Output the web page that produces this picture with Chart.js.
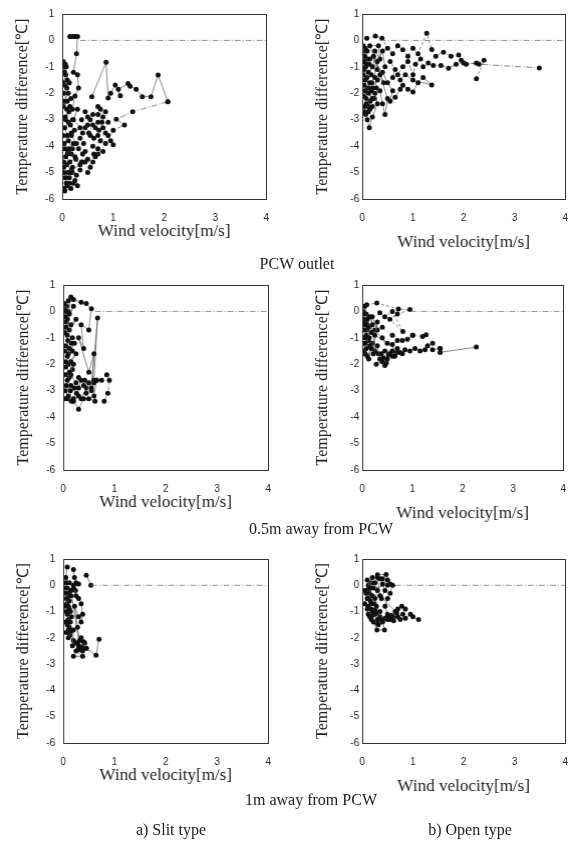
<!DOCTYPE html>
<html>
<head>
<meta charset="utf-8">
<script src="https://cdn.jsdelivr.net/npm/chart.js@4.4.1/dist/chart.umd.min.js"></script>
<style>
  html, body { margin: 0; padding: 0; background: #fff; overflow: hidden; }
  body { width: 569px; height: 846px; position: relative; }
  canvas { position: absolute; }
  .cap { position: absolute; transform: translate(-50%, -50%); font: 16px "Liberation Serif", serif; color: #222; white-space: nowrap; }
</style>
</head>
<body>
<canvas id="p1"></canvas>
<canvas id="p2"></canvas>
<canvas id="p3"></canvas>
<canvas id="p4"></canvas>
<canvas id="p5"></canvas>
<canvas id="p6"></canvas>
<div class="cap" style="left:297px;top:264px">PCW outlet</div>
<div class="cap" style="left:321px;top:529px">0.5m away from PCW</div>
<div class="cap" style="left:311px;top:800px">1m away from PCW</div>
<div class="cap" style="left:171px;top:830px">a) Slit type</div>
<div class="cap" style="left:470px;top:830px">b) Open type</div>
<script>
// axis ticks
const xTicks = [0, 1, 2, 3, 4];
const yTicks = [1, 0, -1, -2, -3, -4, -5, -6];

// zero reference line
const zeroLine1 = [[0.35, 0], [4, 0]];
const zeroLine2 = [[0.35, 0], [4, 0]];
const zeroLine3 = [[0.62, 0], [4, 0]];
const zeroLine4 = [[0.95, 0], [4, 0]];
const zeroLine5 = [[0.54, 0], [4, 0]];
const zeroLine6 = [[0.65, 0], [4, 0]];

// Slit type, PCW outlet
const p1s1 = [[0.02,-0.8],[0.06,-0.9],[0.04,-1.2],[0.08,-1.0],[0.1,-1.5],[0.05,-1.7],[0.12,-2.0],[0.04,-2.3],[0.09,-2.6],[0.15,-2.5],[0.06,-2.9],[0.12,-3.1],[0.2,-3.0],[0.05,-3.3],[0.1,-3.6],[0.18,-3.5],[0.04,-3.9],[0.13,-4.1],[0.22,-3.9],[0.07,-4.4],[0.15,-4.6],[0.03,-4.8],[0.11,-5.0],[0.2,-4.8],[0.06,-5.2],[0.14,-5.4],[0.04,-5.6],[0.1,-5.5],[0.25,-5.3],[0.3,-5.5]];
const p1s2 = [[0.15,0.15],[0.2,0.15],[0.25,0.15],[0.3,0.15],[0.28,-0.5],[0.22,-1.2],[0.3,-1.3],[0.32,-1.8],[0.25,-2.1],[0.2,-2.6],[0.3,-2.6],[0.22,-3.0],[0.35,-3.3],[0.18,-3.6],[0.28,-3.9],[0.12,-4.2],[0.25,-4.4],[0.35,-4.7],[0.18,-4.9],[0.28,-5.1],[0.15,-5.0]];
const p1s3 = [[0.45,-2.7],[0.55,-3.0],[0.6,-2.8],[0.7,-2.5],[0.75,-2.6],[0.8,-2.9],[0.7,-3.1],[0.65,-3.3],[0.5,-3.2],[0.4,-3.5],[0.55,-3.6],[0.7,-3.6],[0.8,-3.3],[0.85,-3.5],[0.95,-3.8],[1.0,-3.95],[0.9,-3.6],[0.75,-3.8],[0.6,-4.0],[0.45,-4.2],[0.38,-4.6],[0.5,-4.5],[0.55,-4.8],[0.62,-4.3],[0.7,-4.1],[0.8,-4.2],[0.65,-4.4]];
const p1s4 = [[0.58,-2.13],[0.86,-0.83],[0.9,-2.18],[0.95,-2.0],[1.04,-1.69],[1.14,-2.09],[1.1,-1.85],[1.29,-1.63],[1.33,-1.73],[1.45,-1.85],[1.57,-2.13],[1.74,-2.13],[1.88,-1.31],[2.07,-2.32]];
const p1s5 = [[0.7,-4.3],[0.85,-3.9],[1.0,-3.4],[1.22,-3.2],[1.06,-2.98],[1.38,-2.7],[2.07,-2.32]];
const p1s6 = [[0.03,-1.0],[0.07,-1.3],[0.02,-1.6],[0.09,-1.8],[0.14,-1.6],[0.03,-2.0],[0.1,-2.3],[0.17,-2.2],[0.02,-2.5],[0.13,-2.7],[0.07,-3.0],[0.16,-3.2],[0.24,-3.4],[0.02,-3.6],[0.12,-3.8],[0.2,-4.1],[0.05,-4.1],[0.1,-4.3],[0.18,-4.3],[0.27,-4.5],[0.03,-4.6],[0.09,-4.7],[0.2,-5.0],[0.14,-5.2],[0.03,-5.0],[0.08,-5.4],[0.22,-5.4],[0.17,-5.6],[0.05,-5.7]];
const p1s7 = [[0.35,-4.9],[0.45,-4.6],[0.4,-4.3],[0.32,-4.1],[0.42,-3.9],[0.35,-3.7],[0.45,-3.3],[0.38,-3.0],[0.5,-2.9],[0.6,-3.2],[0.52,-3.5],[0.62,-3.7],[0.72,-3.4],[0.78,-3.1],[0.7,-2.8],[0.85,-2.7],[0.9,-3.1],[0.6,-4.6],[0.5,-5.0]];

// Open type, PCW outlet
const p2s1 = [[0.02,-0.2],[0.05,-0.6],[0.1,-0.4],[0.08,-0.9],[0.15,-0.7],[0.03,-1.1],[0.12,-1.2],[0.2,-1.0],[0.06,-1.5],[0.15,-1.6],[0.25,-1.4],[0.05,-1.9],[0.12,-2.0],[0.2,-2.2],[0.08,-2.4],[0.15,-2.6],[0.05,-2.7],[0.1,-3.0],[0.14,-3.3],[0.2,-2.9],[0.3,-2.4],[0.25,-2.0],[0.35,-1.9],[0.4,-2.4],[0.45,-2.8],[0.5,-2.2],[0.35,-1.3],[0.3,-0.8],[0.4,-0.4],[0.45,-1.0]];
const p2s2 = [[0.09,0.08],[0.26,0.17],[0.39,0.08],[0.5,-0.3],[0.6,-0.5],[0.7,-0.2],[0.8,-0.35],[0.9,-0.6],[1.0,-0.3],[1.1,-0.5],[1.27,0.27],[1.37,-0.34],[1.45,-0.6],[1.6,-0.45],[1.75,-0.6],[1.9,-0.55],[1.95,-0.75],[2.05,-0.9],[2.25,-0.85],[2.4,-0.75],[2.25,-1.45]];
const p2s3 = [[0.55,-0.8],[0.65,-1.1],[0.6,-1.4],[0.7,-1.3],[0.8,-1.0],[0.9,-0.8],[1.0,-1.3],[1.05,-0.9],[1.15,-0.7],[1.2,-1.0],[1.3,-0.85],[1.4,-0.95],[1.55,-0.95],[1.7,-1.05],[1.85,-0.9],[2.0,-0.85],[2.3,-0.9],[3.49,-1.04]];
const p2s4 = [[0.2,-1.8],[0.3,-1.5],[0.4,-1.2],[0.5,-1.6],[0.6,-1.9],[0.55,-2.3],[0.65,-2.15],[0.75,-1.85],[0.8,-1.7],[0.9,-1.85],[1.0,-1.95],[1.1,-1.6],[1.2,-1.4],[1.37,-1.69],[1.0,-1.5],[0.85,-1.3],[0.75,-1.5]];
const p2s5 = [[0.02,-0.4],[0.06,-0.3],[0.03,-0.8],[0.1,-0.7],[0.07,-1.0],[0.14,-0.9],[0.02,-1.3],[0.09,-1.4],[0.18,-1.3],[0.04,-1.7],[0.11,-1.8],[0.19,-1.6],[0.03,-2.1],[0.08,-2.2],[0.16,-2.3],[0.24,-2.2],[0.05,-2.5],[0.12,-2.5],[0.2,-2.5],[0.07,-2.8],[0.12,-2.7],[0.18,-1.9],[0.28,-1.8],[0.22,-0.6],[0.3,-1.1],[0.25,-0.4],[0.35,-0.7],[0.32,-0.2],[0.15,-0.2],[0.42,-1.6]];

// Slit type, 0.5m away
const p3s1 = [[0.02,0.3],[0.05,0.0],[0.1,0.4],[0.15,0.55],[0.08,-0.3],[0.12,-0.1],[0.2,0.2],[0.05,-0.6],[0.15,-0.5],[0.25,-0.3],[0.08,-0.9],[0.18,-1.0],[0.05,-1.3],[0.12,-1.4],[0.22,-1.2],[0.08,-1.7],[0.15,-1.9],[0.25,-1.6],[0.05,-2.1],[0.12,-2.3],[0.2,-2.0],[0.08,-2.6],[0.15,-2.8],[0.04,-3.0],[0.1,-3.2],[0.2,-3.3],[0.03,-3.3]];
const p3s2 = [[0.2,0.45],[0.35,0.35],[0.45,0.3],[0.55,0.1],[0.5,-0.7],[0.35,-0.5],[0.4,-1.4],[0.3,-1.0],[0.5,-2.3],[0.6,-1.6],[0.55,-2.9],[0.67,-0.25],[0.6,-2.6]];
const p3s3 = [[0.15,-2.4],[0.25,-2.7],[0.3,-2.9],[0.35,-2.6],[0.4,-2.8],[0.45,-3.1],[0.5,-2.7],[0.55,-3.0],[0.6,-2.7],[0.65,-2.6],[0.6,-3.2],[0.62,-3.4],[0.5,-3.3],[0.4,-3.3],[0.3,-3.7],[0.2,-3.4],[0.3,-3.2]];
const p3s4 = [[0.65,-2.6],[0.75,-2.6],[0.85,-2.4],[0.9,-2.6],[0.87,-3.1],[0.8,-3.4]];
const p3s5 = [[0.03,0.1],[0.07,0.2],[0.04,-0.2],[0.1,0.0],[0.06,-0.4],[0.12,-0.7],[0.03,-0.8],[0.09,-1.1],[0.16,-1.2],[0.03,-1.5],[0.1,-1.6],[0.18,-1.5],[0.05,-1.9],[0.1,-2.0],[0.18,-2.2],[0.04,-2.4],[0.12,-2.5],[0.06,-2.8],[0.14,-3.0],[0.22,-2.9],[0.08,-3.3],[0.16,-3.4],[0.26,-3.1],[0.35,-3.3],[0.45,-2.9],[0.42,-2.6],[0.3,-2.5]];

// Open type, 0.5m away
const p4s1 = [[0.02,-0.1],[0.05,0.2],[0.1,-0.3],[0.04,-0.5],[0.12,-0.6],[0.08,-0.9],[0.15,-0.2],[0.2,-0.5],[0.06,-1.2],[0.14,-1.0],[0.03,-1.5],[0.1,-1.7],[0.18,-1.4],[0.25,-0.9],[0.3,-0.4],[0.22,-1.6],[0.3,-1.3],[0.35,-1.8],[0.28,-2.0],[0.4,-1.9],[0.45,-2.05],[0.5,-1.8],[0.55,-1.6],[0.45,-1.5],[0.6,-1.5],[0.65,-1.7],[0.7,-1.4],[0.75,-1.55],[0.85,-1.45],[0.95,-1.5],[1.05,-1.4],[1.15,-1.5],[1.25,-1.45],[1.3,-1.3],[1.4,-1.45],[1.55,-1.4],[1.55,-1.55],[2.27,-1.35]];
const p4s2 = [[0.09,0.25],[0.29,0.32],[0.72,0.09],[0.95,0.07],[0.7,-0.1],[0.55,-0.3],[0.81,-0.76],[0.6,0.0],[0.45,-0.2],[0.35,-0.05]];
const p4s3 = [[0.4,-0.6],[0.6,-0.9],[0.8,-1.1],[1.01,-0.9],[1.2,-0.95],[1.27,-0.88],[1.4,-1.2],[1.55,-1.4]];
const p4s4 = [[0.25,-0.7],[0.4,-1.0],[0.5,-1.2],[0.6,-1.25],[0.7,-1.1],[0.9,-1.05],[1.0,-0.9]];
const p4s5 = [[0.03,0.0],[0.08,-0.1],[0.02,-0.3],[0.06,-0.4],[0.1,-0.5],[0.03,-0.7],[0.09,-0.7],[0.05,-1.0],[0.12,-1.1],[0.02,-1.2],[0.08,-1.4],[0.15,-1.3],[0.06,-1.6],[0.13,-1.8],[0.2,-1.2],[0.25,-1.5],[0.32,-1.6],[0.38,-1.6],[0.42,-1.75],[0.48,-1.95],[0.52,-1.65],[0.6,-1.7],[0.68,-1.55],[0.8,-1.6],[0.18,-0.8],[0.2,-0.2],[0.3,-0.7]];

// Slit type, 1m away
const p5s1 = [[0.08,0.7],[0.05,0.3],[0.12,0.1],[0.03,-0.1],[0.1,-0.3],[0.06,-0.5],[0.15,-0.4],[0.04,-0.8],[0.12,-0.9],[0.08,-1.1],[0.16,-1.2],[0.05,-1.4],[0.12,-1.6],[0.06,-1.8],[0.15,-1.75],[0.1,-2.0],[0.2,-1.7],[0.18,-2.3],[0.25,-2.2]];
const p5s2 = [[0.2,0.6],[0.22,0.3],[0.25,0.1],[0.3,0.05],[0.2,-0.1],[0.25,-0.4],[0.3,-0.5],[0.35,-0.7],[0.38,-1.1],[0.35,-1.4],[0.3,-1.2],[0.22,-0.8],[0.28,-1.6],[0.32,-2.1],[0.35,-2.0],[0.4,-2.15],[0.45,-2.4],[0.38,-2.5],[0.3,-2.4],[0.25,-2.5],[0.38,-2.7],[0.2,-2.7]];
const p5s3 = [[0.45,0.38],[0.54,0.0]];
const p5s4 = [[0.45,-2.4],[0.64,-2.66],[0.7,-2.05]];
const p5s5 = [[0.05,0.1],[0.08,-0.1],[0.04,-0.3],[0.09,-0.5],[0.12,-0.6],[0.07,-0.7],[0.1,-0.8],[0.14,-1.0],[0.06,-1.0],[0.1,-1.3],[0.14,-1.4],[0.08,-1.5],[0.1,-1.7],[0.13,-1.9],[0.2,-2.1],[0.28,-2.2],[0.3,-2.3],[0.36,-2.35],[0.42,-2.2],[0.33,-2.45],[0.15,-0.2],[0.2,0.0],[0.24,-0.2]];

// Open type, 1m away
const p6s1 = [[0.1,0.2],[0.15,-0.1],[0.08,-0.3],[0.2,0.3],[0.12,-0.5],[0.18,-0.7],[0.1,-0.9],[0.2,-1.0],[0.15,-1.2],[0.25,-1.1],[0.3,-1.3],[0.22,-1.4],[0.29,-1.7],[0.44,-1.7],[0.4,-1.35],[0.35,-1.0],[0.28,-0.8],[0.25,-0.5],[0.3,-0.2],[0.25,0.1],[0.35,0.25],[0.4,0.05],[0.45,-0.2],[0.38,-0.5]];
const p6s2 = [[0.3,0.4],[0.47,0.41],[0.5,0.2],[0.55,0.05],[0.6,0.0],[0.55,-0.3],[0.5,-0.5],[0.45,-0.8],[0.5,-1.1],[0.55,-1.3],[0.6,-1.2],[0.65,-1.0],[0.7,-0.9],[0.78,-0.8],[0.85,-0.9],[0.8,-1.1],[0.7,-1.2],[0.75,-1.3],[0.85,-1.25],[0.95,-1.1],[1.0,-1.2],[1.11,-1.3]];
const p6s3 = [[0.05,-0.2],[0.1,-0.5],[0.05,-0.7],[0.12,-1.1],[0.18,-1.3],[0.32,-1.5],[0.4,-1.4],[0.5,-1.2]];
const p6s4 = [[0.12,0.0],[0.18,0.1],[0.22,-0.1],[0.14,-0.3],[0.2,-0.4],[0.16,-0.6],[0.24,-0.7],[0.12,-0.8],[0.18,-0.9],[0.25,-0.95],[0.2,-1.15],[0.28,-1.05],[0.35,-1.2],[0.3,-1.45],[0.38,-1.3],[0.45,-1.25],[0.5,-1.3],[0.58,-1.15],[0.62,-1.35],[0.68,-1.05],[0.35,-0.4],[0.3,0.3],[0.4,0.25],[0.5,0.0],[0.12,-0.15]];

const SOLID = [], DASH = [3, 2], DOT = [1, 2], DASHDOT = [6, 2, 1, 2];
const serif = '"Liberation Serif", "Times New Roman", serif';
const sans = '"Liberation Sans", Arial, sans-serif';

const boxPlugin = {
    id: 'box',
    afterDraw(chart) {
        const { ctx, chartArea: a } = chart;
        ctx.save();
        ctx.strokeStyle = '#333';
        ctx.lineWidth = 1;
        ctx.strokeRect(Math.round(a.left) + 0.5, Math.round(a.top) + 0.5, Math.round(a.right - a.left), Math.round(a.bottom - a.top));
        ctx.restore();
    }
};

const toPts = arr => arr.map(([x, y]) => ({ x, y }));

const series = (arr, dash) => ({
    data: toPts(arr),
    showLine: true,
    borderColor: '#555',
    borderWidth: 0.7,
    borderDash: dash,
    pointRadius: 2.5,
    pointBackgroundColor: '#111',
    pointBorderWidth: 0
});

const zero = arr => ({
    data: toPts(arr),
    showLine: true,
    borderColor: '#777',
    borderWidth: 0.8,
    borderDash: DASHDOT,
    pointRadius: 0
});

function buildConfig(sets, right) {
    return {
        type: 'scatter',
        data: { datasets: sets },
        options: {
            responsive: false,
            animation: false,
            layout: { padding: { left: 0, top: 14, right: 4, bottom: 0 } },
            plugins: { legend: { display: false }, tooltip: { enabled: false } },
            scales: {
                x: {
                    type: 'linear',
                    min: xTicks[0],
                    max: xTicks[xTicks.length - 1],
                    afterBuildTicks: s => { s.ticks = xTicks.map(v => ({ value: v })); },
                    afterFit: s => { s.height = 60; },
                    grid: { display: false, drawTicks: false },
                    border: { display: false },
                    ticks: { padding: 13, color: '#222', font: { family: sans, size: 10 } },
                    title: {
                        display: true,
                        text: 'Wind velocity[m/s]',
                        color: '#222',
                        font: { family: serif, size: 17 },
                        padding: { top: 0, bottom: right ? 6 : 17 }
                    }
                },
                y: {
                    type: 'linear',
                    min: yTicks[yTicks.length - 1],
                    max: yTicks[0],
                    afterBuildTicks: s => { s.ticks = yTicks.map(v => ({ value: v })); },
                    afterFit: s => { s.width = 62; },
                    grid: { display: false, drawTicks: false },
                    border: { display: false },
                    ticks: { padding: right ? 3 : 8, color: '#222', font: { family: sans, size: 10 } },
                    title: {
                        display: true,
                        text: 'Temperature difference[℃]',
                        color: '#222',
                        font: { family: serif, size: 16 },
                        padding: { top: 13, bottom: 0 }
                    }
                }
            }
        },
        plugins: [boxPlugin]
    };
}

function makePanel(id, rect, right, sets) {
    const canvas = document.getElementById(id);
    let w = rect.r - rect.l + 62 + 4;
    let h = rect.b - rect.t + 14 + 60;
    canvas.width = w;
    canvas.height = h;
    let chart = new Chart(canvas.getContext('2d'), buildConfig(sets, right));
    // line the plot area up with the reference box
    const a = chart.chartArea;
    w += (rect.r - rect.l) - (a.right - a.left);
    h += (rect.b - rect.t) - (a.bottom - a.top);
    const left = rect.l - a.left;
    const top = rect.t - a.top;
    chart.destroy();
    canvas.width = w;
    canvas.height = h;
    canvas.style.width = w + 'px';
    canvas.style.height = h + 'px';
    canvas.style.left = left + 'px';
    canvas.style.top = top + 'px';
    chart = new Chart(canvas.getContext('2d'), buildConfig(sets, right));
}

makePanel('p1', { l: 62, t: 14, r: 266, b: 199 }, false, [
    zero(zeroLine1), series(p1s1, SOLID), series(p1s2, SOLID), series(p1s3, DOT), series(p1s4, SOLID), series(p1s5, DASHDOT), series(p1s6, SOLID), series(p1s7, DOT)
]);
makePanel('p2', { l: 362, t: 14, r: 565, b: 199 }, true, [
    zero(zeroLine2), series(p2s1, SOLID), series(p2s2, DASH), series(p2s3, DASHDOT), series(p2s4, SOLID), series(p2s5, SOLID)
]);
makePanel('p3', { l: 63, t: 285, r: 268, b: 470 }, false, [
    zero(zeroLine3), series(p3s1, SOLID), series(p3s2, SOLID), series(p3s3, SOLID), series(p3s4, DASH), series(p3s5, SOLID)
]);
makePanel('p4', { l: 362, t: 285, r: 563, b: 470 }, true, [
    zero(zeroLine4), series(p4s1, SOLID), series(p4s2, DASH), series(p4s3, DOT), series(p4s4, SOLID), series(p4s5, SOLID)
]);
makePanel('p5', { l: 63, t: 559, r: 268, b: 743 }, false, [
    zero(zeroLine5), series(p5s1, SOLID), series(p5s2, SOLID), series(p5s3, SOLID), series(p5s4, SOLID), series(p5s5, SOLID)
]);
makePanel('p6', { l: 362, t: 559, r: 565, b: 743 }, true, [
    zero(zeroLine6), series(p6s1, SOLID), series(p6s2, SOLID), series(p6s3, DASH), series(p6s4, SOLID)
]);
</script>
</body>
</html>
